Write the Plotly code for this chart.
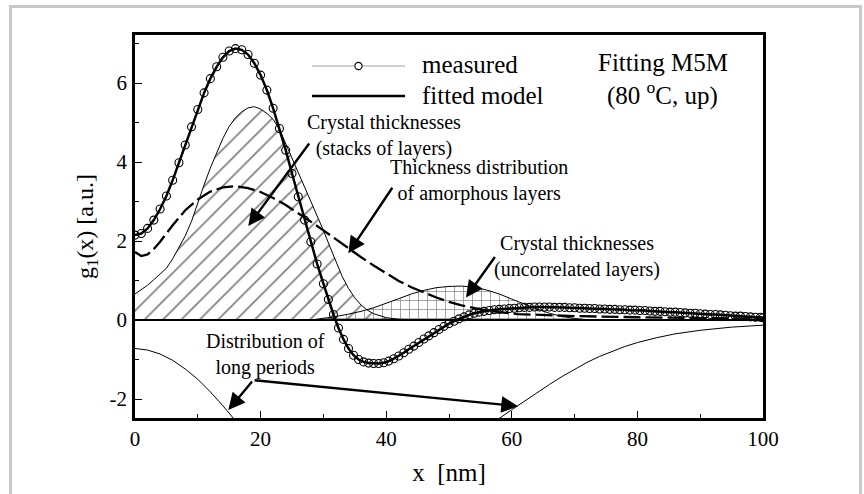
import plotly.graph_objects as go

# ---------------- data ----------------
meas_x = [0, 1, 2, 3, 4, 5, 6, 7, 8, 9,
          10, 11, 12, 13, 14, 15, 16, 17, 18, 19,
          20, 21, 22, 23, 24, 25, 26, 27, 28, 29,
          30, 30.8, 31.6, 32.4, 33.2, 34.0, 34.8, 35.6, 36.4, 37.2,
          38.0, 38.8, 39.6, 40.4, 41.2, 42.0, 42.8, 43.6, 44.4, 45.2,
          46.0, 46.8, 47.6, 48.4, 49.2, 50.0, 50.8, 51.6, 52.4, 53.2,
          54.0, 54.8, 55.6, 56.4, 57.2, 58.0, 58.8, 59.6, 60.4, 61.2,
          62.0, 62.8, 63.6, 64.4, 65.2, 66.0, 66.8, 67.6, 68.4, 69.2,
          70.0, 70.8, 71.6, 72.4, 73.2, 74.0, 74.8, 75.6, 76.4, 77.2,
          78.0, 78.8, 79.6, 80.4, 81.2, 82.0, 82.8, 83.6, 84.4, 85.2,
          86.0, 86.8, 87.6, 88.4, 89.2, 90.0, 90.8, 91.6, 92.4, 93.2,
          94.0, 94.8, 95.6, 96.4, 97.2, 98.0, 98.8, 99.6, 100]
meas_y = [2.15, 2.19, 2.32, 2.53, 2.81, 3.14, 3.54, 3.98, 4.43, 4.89,
          5.33, 5.75, 6.11, 6.41, 6.65, 6.81, 6.87, 6.84, 6.72, 6.50,
          6.20, 5.82, 5.36, 4.85, 4.30, 3.71, 3.12, 2.53, 1.98, 1.42,
          0.92, 0.52, 0.14, -0.20, -0.49, -0.72, -0.89, -1.00, -1.06, -1.09,
          -1.10, -1.10, -1.08, -1.04, -0.98, -0.91, -0.83, -0.74, -0.66, -0.57,
          -0.48, -0.40, -0.32, -0.24, -0.16, -0.09, -0.03, 0.03, 0.08, 0.13,
          0.17, 0.20, 0.22, 0.24, 0.26, 0.27, 0.28, 0.29, 0.30, 0.31,
          0.32, 0.32, 0.33, 0.33, 0.33, 0.33, 0.32, 0.32, 0.32, 0.31,
          0.31, 0.30, 0.30, 0.29, 0.29, 0.28, 0.28, 0.27, 0.27, 0.26,
          0.26, 0.25, 0.25, 0.24, 0.24, 0.23, 0.22, 0.22, 0.21, 0.20,
          0.20, 0.19, 0.18, 0.17, 0.17, 0.16, 0.15, 0.14, 0.14, 0.13,
          0.12, 0.11, 0.10, 0.10, 0.09, 0.08, 0.07, 0.07, 0.06]
assert len(meas_x) == len(meas_y)

# fitted model follows the measured curve
fit_x = meas_x
fit_y = meas_y

# crystal thicknesses, stacks of layers (hatched)
stack_x = [0, 1, 2, 3, 4, 5, 6, 7, 8, 9, 10, 11, 12, 13, 14, 15, 16, 17, 18, 19,
           20, 21, 22, 23, 24, 25, 26, 27, 28, 29, 30, 31, 32, 33, 34, 35, 36, 37,
           38, 39, 40, 42, 45]
stack_y = [0.66, 0.76, 0.88, 1.02, 1.16, 1.31, 1.55, 1.83, 2.13, 2.50, 2.98, 3.42,
           3.85, 4.24, 4.60, 4.90, 5.12, 5.27, 5.37, 5.40, 5.34, 5.23, 5.08, 4.83,
           4.47, 4.08, 3.72, 3.35, 3.00, 2.65, 2.27, 1.87, 1.47, 1.10, 0.80, 0.56,
           0.38, 0.25, 0.16, 0.10, 0.06, 0.02, 0.0]

# crystal thicknesses, uncorrelated layers (cross-hatched)
uncor_x = [28, 30, 32, 34, 36, 38, 40, 42, 44, 46, 48, 50, 52, 54, 56, 58, 60, 62,
           64, 66, 68, 70, 72, 74]
uncor_y = [0.0, 0.04, 0.09, 0.15, 0.22, 0.31, 0.42, 0.54, 0.66, 0.75, 0.82, 0.85,
           0.86, 0.83, 0.76, 0.66, 0.53, 0.40, 0.28, 0.17, 0.09, 0.04, 0.01, 0.0]

# thickness distribution of amorphous layers (dashed)
amor_x = [0, 1, 2, 3, 4, 6, 8, 10, 12, 14, 16, 18, 20, 22, 24, 26, 28, 30, 32, 34,
          36, 38, 40, 42, 44, 46, 48, 50, 52, 55, 58, 61, 65, 70, 80, 90, 100]
amor_y = [1.72, 1.62, 1.66, 1.80, 1.98, 2.40, 2.78, 3.05, 3.25, 3.36, 3.39, 3.34,
          3.24, 3.09, 2.91, 2.71, 2.49, 2.27, 2.04, 1.81, 1.59, 1.38, 1.18, 0.99,
          0.83, 0.69, 0.57, 0.46, 0.37, 0.27, 0.20, 0.15, 0.12, 0.10, 0.07, 0.05, 0.03]

# distribution of long periods (negative, partly below the axis range)
lp_x = [0, 2, 4, 6, 8, 10, 12, 14, 16, None,
        57, 58, 60, 62, 64, 66, 68, 70, 72, 74, 76, 78, 80, 83, 86, 90, 95, 100]
lp_y = [-0.72, -0.76, -0.86, -1.02, -1.24, -1.50, -1.82, -2.17, -2.55, None,
        -2.62, -2.49, -2.27, -2.05, -1.84, -1.63, -1.43, -1.24, -1.07, -0.92,
        -0.79, -0.67, -0.57, -0.45, -0.35, -0.26, -0.18, -0.13]

x_ticks = [0, 20, 40, 60, 80, 100]
x_tick_text = ["0", "20", "40", "60", "80", "100"]
y_ticks = [-2, 0, 2, 4, 6]
y_tick_text = ["-2", "0", "2", "4", "6"]

SERIF = "Liberation Serif, Times New Roman, serif"

# pixel helpers for the plot frame (paper coordinates)
PL, PT, PW, PH = 135, 35, 628, 383
def px2paper_x(px):
    return (px - PL) / PW
def py2paper_y(py):
    return (PT + PH - py) / PH

# ---------------- figure ----------------
fig = go.Figure()

fig.add_trace(go.Scatter(
    x=stack_x, y=stack_y, mode="lines", fill="tozeroy",
    line=dict(color="black", width=1), fillcolor="rgba(0,0,0,0)",
    fillpattern=dict(shape="/", fgcolor="black", bgcolor="rgba(0,0,0,0)",
                     size=13, solidity=0.13),
    showlegend=False, hoverinfo="skip"))

fig.add_trace(go.Scatter(
    x=uncor_x, y=uncor_y, mode="lines", fill="tozeroy",
    line=dict(color="black", width=1), fillcolor="rgba(0,0,0,0)",
    fillpattern=dict(shape="+", fgcolor="black", bgcolor="rgba(0,0,0,0)",
                     size=9, solidity=0.15),
    showlegend=False, hoverinfo="skip"))

fig.add_trace(go.Scatter(
    x=amor_x, y=amor_y, mode="lines",
    line=dict(color="black", width=2.3, dash="17px,5px"),
    showlegend=False, hoverinfo="skip"))

fig.add_trace(go.Scatter(
    x=lp_x, y=lp_y, mode="lines", connectgaps=False,
    line=dict(color="black", width=1),
    showlegend=False, hoverinfo="skip"))

fig.add_trace(go.Scatter(
    x=meas_x, y=meas_y, mode="markers", name="measured",
    marker=dict(symbol="circle-open", size=8, color="black",
                line=dict(color="black", width=1.1)),
    showlegend=False))

fig.add_trace(go.Scatter(
    x=fit_x, y=fit_y, mode="lines", name="fitted model",
    line=dict(color="black", width=2.5), showlegend=False))

# ---------------- annotations ----------------
ann_font = dict(family=SERIF, size=20, color="black")
big_font = dict(family=SERIF, size=25, color="black")
annotations = [
    dict(x=39.7, y=4.68, text="Crystal thicknesses<br>(stacks of layers)",
         showarrow=False, font=ann_font, align="center",
         xanchor="center", yanchor="middle"),
    dict(x=54.8, y=3.52, text="Thickness distribution<br>of amorphous layers",
         showarrow=False, font=ann_font, align="center",
         xanchor="center", yanchor="middle"),
    dict(x=70.4, y=1.62, text="Crystal thicknesses<br>(uncorrelated layers)",
         showarrow=False, font=ann_font, align="center",
         xanchor="center", yanchor="middle"),
    dict(x=20.7, y=-0.86, text="Distribution of<br>long periods",
         showarrow=False, font=ann_font, align="center",
         xanchor="center", yanchor="middle"),
    dict(xref="paper", yref="paper", x=px2paper_x(662.5), y=py2paper_y(62),
         xanchor="center", yanchor="middle",
         text="Fitting M5M", showarrow=False, font=big_font),
    dict(xref="paper", yref="paper", x=px2paper_x(662.5), y=py2paper_y(93),
         xanchor="center", yanchor="middle",
         text="(80 <sup>o</sup>C, up)", showarrow=False, font=big_font),
    # manual legend texts
    dict(xref="paper", yref="paper", x=px2paper_x(420), y=py2paper_y(65),
         xanchor="left", yanchor="middle",
         text="measured", showarrow=False, font=big_font),
    dict(xref="paper", yref="paper", x=px2paper_x(420), y=py2paper_y(95),
         xanchor="left", yanchor="middle",
         text="fitted model", showarrow=False, font=big_font),
]
arrows = [
    (18.04, 2.38, 62, -84),
    (33.97, 1.69, 45, -67),
    (52.7, 0.57, 30, -42),
    (14.86, -2.28, 25, -30),
    (61.0, -2.18, -265, -26),
]
for hx, hy, dx, dy in arrows:
    annotations.append(dict(x=hx, y=hy, ax=dx, ay=dy, xref="x", yref="y",
                            text="", showarrow=True, arrowhead=2, arrowsize=1.4,
                            arrowwidth=2.4, arrowcolor="black", standoff=0))

shapes = [
    # outer light-grey frame
    dict(type="rect", xref="paper", yref="paper",
         x0=px2paper_x(10.5), x1=px2paper_x(860.5),
         y0=py2paper_y(520), y1=py2paper_y(6.5),
         line=dict(color="#c8c8c8", width=3), fillcolor="rgba(0,0,0,0)",
         layer="below"),
    # legend samples
    dict(type="line", xref="paper", yref="paper",
         x0=px2paper_x(312), x1=px2paper_x(405),
         y0=py2paper_y(66), y1=py2paper_y(66),
         line=dict(color="#a0a0a0", width=1)),
    dict(type="circle", xref="paper", yref="paper",
         xsizemode="pixel", ysizemode="pixel",
         xanchor=px2paper_x(358.5), yanchor=py2paper_y(66),
         x0=-3.6, x1=3.6, y0=-3.6, y1=3.6,
         line=dict(color="black", width=1.1), fillcolor="white"),
    dict(type="line", xref="paper", yref="paper",
         x0=px2paper_x(312), x1=px2paper_x(405),
         y0=py2paper_y(96), y1=py2paper_y(96),
         line=dict(color="black", width=2.5)),
]

axis_common = dict(
    showline=True, linecolor="black", linewidth=2.5, mirror=True,
    ticks="inside", ticklen=7, tickwidth=1.2, tickcolor="black",
    showgrid=False,
    tickfont=dict(family=SERIF, size=21, color="black"),
)

fig.update_layout(
    width=864, height=494,
    margin=dict(l=PL, r=864 - PL - PW, t=PT, b=494 - PT - PH, pad=0),
    paper_bgcolor="white", plot_bgcolor="white",
    font=dict(family=SERIF, color="black"),
    showlegend=False,
    xaxis=dict(range=[0, 100], tickvals=x_ticks, ticktext=x_tick_text,
               minor=dict(ticks="inside", ticklen=4, tickwidth=1.2,
                          dtick=10, tick0=0, tickcolor="black"),
               zeroline=False,
               title=dict(text="x  [nm]", font=dict(family=SERIF, size=25),
                          standoff=14),
               ticklabelstandoff=0,
               **axis_common),
    yaxis=dict(range=[-2.48, 7.215], tickvals=y_ticks, ticktext=y_tick_text,
               minor=dict(ticks="inside", ticklen=4, tickwidth=1.2,
                          dtick=1, tick0=0, tickcolor="black"),
               zeroline=True, zerolinecolor="black", zerolinewidth=1.5,
               title=dict(text="g<sub>1</sub>(x) [a.u.]",
                          font=dict(family=SERIF, size=24), standoff=10),
               ticklabelstandoff=1,
               **axis_common),
    annotations=annotations,
    shapes=shapes,
)

fig.write_html("out.html")
